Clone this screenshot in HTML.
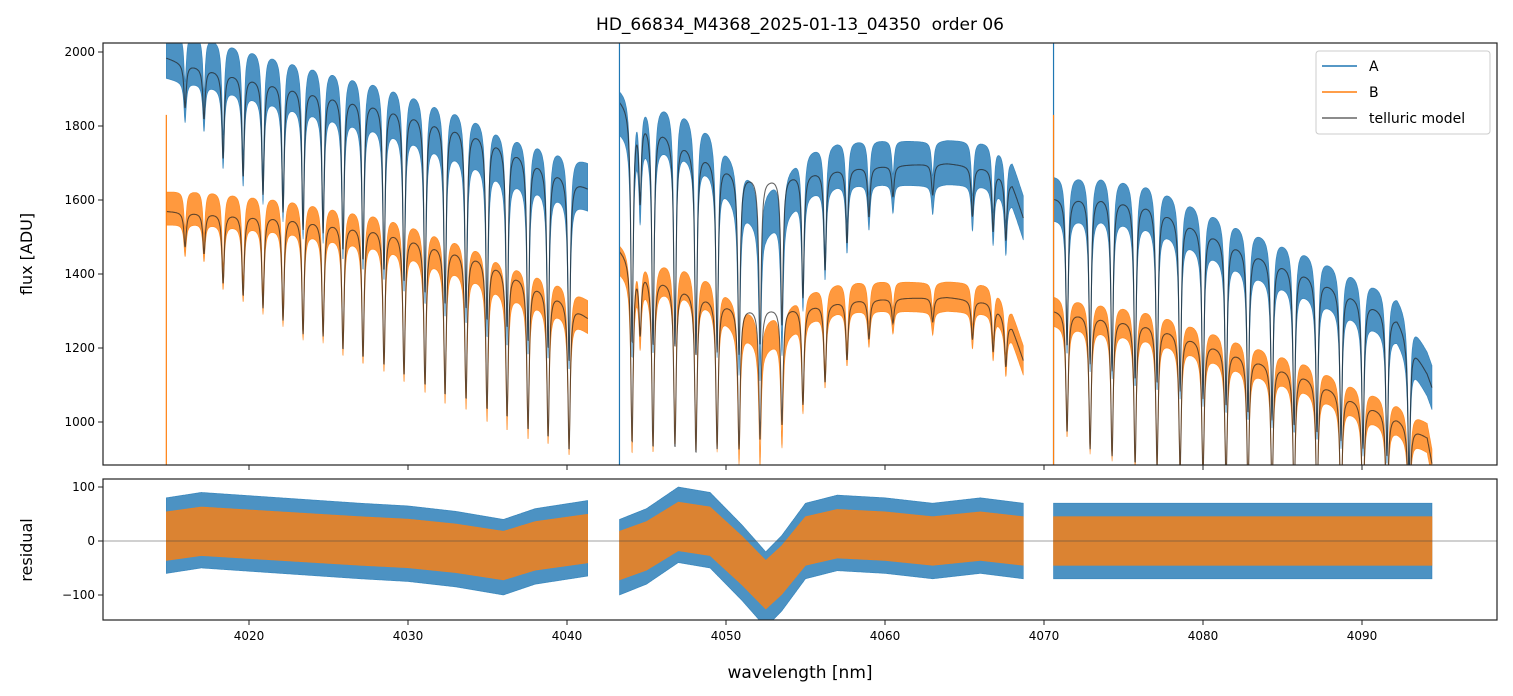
<!DOCTYPE html>
<html><head><meta charset="utf-8"><style>
body{margin:0;background:#fff;font-family:"Liberation Sans",sans-serif}
svg{display:block}
text{font-family:"DejaVu Sans","Liberation Sans",sans-serif}
</style></head><body>
<svg id="chart" width="1513" height="696" viewBox="0 0 1513 696" xmlns="http://www.w3.org/2000/svg">
<defs>
<clipPath id="cTop"><rect x="103" y="43" width="1394" height="422"/></clipPath>
<clipPath id="cRes"><rect x="103" y="479" width="1394" height="141"/></clipPath>
</defs>
<text x="800" y="30" font-size="17" text-anchor="middle">HD_66834_M4368_2025-01-13_04350&#160; order 06</text>
<g id="topg" clip-path="url(#cTop)"></g>
<g id="resg" clip-path="url(#cRes)"></g>
<g id="axes"></g>
<text transform="translate(32,254) rotate(-90)" font-size="16" text-anchor="middle">flux [ADU]</text>
<text transform="translate(32,550) rotate(-90)" font-size="16" text-anchor="middle">residual</text>
<text x="800" y="678" font-size="17" text-anchor="middle">wavelength [nm]</text>
<g id="legendg">
<rect x="1316" y="51" width="174" height="83" rx="3" fill="#fff" fill-opacity="0.8" stroke="#ccc"/>
<line x1="1322" y1="66" x2="1357" y2="66" stroke="#1f77b4" stroke-width="1.6"/>
<text x="1369" y="71" font-size="14">A</text>
<line x1="1322" y1="92" x2="1357" y2="92" stroke="#ff7f0e" stroke-width="1.6"/>
<text x="1369" y="97" font-size="14">B</text>
<line x1="1322" y1="118" x2="1357" y2="118" stroke="#666" stroke-width="1.6"/>
<text x="1369" y="123" font-size="14">telluric model</text>
</g>
</svg>
<script>
// ---- data ----
const segStart=[4014.8,4043.3,4070.6];
const segEnd=[4041.3,4068.7,4094.4];
const contX=[[4014.8,4015.9,4022.2,4028.5,4034.8,4039.8,4041.3],[4043.3,4045.2,4048.3,4050.8,4052.7,4054.6,4057.8,4061.0,4063.9,4066.8,4068.0,4068.7],[4070.6,4073.6,4076.7,4079.9,4083.0,4086.2,4089.3,4092.2,4094.1,4094.4]];
const contA=[[1985,1969,1916,1862,1781,1673,1635],[1876,1816,1735,1673,1662,1673,1689,1695,1700,1686,1646,1554],[1608,1614,1592,1527,1465,1411,1349,1284,1132,1095]];
const contB=[[1570,1568,1559,1524,1446,1335,1284],[1470,1403,1349,1311,1311,1311,1330,1335,1338,1324,1257,1168],[1303,1289,1268,1222,1176,1132,1068,1014,959,889]];
const lineW=[4015.98,4017.17,4018.37,4019.63,4020.88,4022.14,4023.40,4024.66,4025.91,4027.17,4028.49,4029.75,4031.07,4032.33,4033.65,4034.97,4036.23,4037.55,4038.81,4040.13,
 4044.09,4044.6,4045.41,4046.79,4048.11,4049.44,4050.82,4052.14,4053.52,4054.84,4056.23,4057.61,4058.99,4060.5,4063.0,4065.5,4066.8,4067.6,
 4071.45,4072.90,4074.28,4075.73,4077.11,4078.56,4080.00,4081.45,4082.83,4084.34,4085.73,4087.17,4088.68,4090.06,4091.57,4092.96];
const lineD=[0.06,0.07,0.12,0.14,0.16,0.18,0.2,0.2,0.22,0.23,0.24,0.25,0.26,0.27,0.27,0.28,0.28,0.29,0.29,0.3,
 0.34,0.12,0.33,0.32,0.32,0.3,0.29,0.27,0.24,0.2,0.16,0.12,0.08,0.05,0.05,0.08,0.1,0.1,
 0.25,0.28,0.29,0.3,0.3,0.3,0.3,0.3,0.3,0.3,0.3,0.3,0.3,0.3,0.3,0.3];
const trendX=[4014.8,4017,4022,4027,4030,4033,4036,4038,4041.3, 4043.3,4045,4047,4049,4051,4052.5,4053.5,4055,4057,4060,4063,4066,4068.7, 4070.6,4094.4];
const trendV=[10,20,10,0,-5,-15,-30,-10,5, -30,-10,30,20,-40,-90,-60,0,15,10,0,10,0, 0,0];
const noiseA=[65,60,60], noiseB=[45,40,40];
const xTicks=[4020,4030,4040,4050,4060,4070,4080,4090];
const yTicks=[1000,1200,1400,1600,1800,2000];
const rTicks=[-100,0,100];

// ---- axes ----
const X=w=>249+(w-4020)*15.9;
const Y=f=>52+(2000-f)*0.37;
const R=r=>541-r*0.54;
const NS="http://www.w3.org/2000/svg";
function mk(tag,attrs,parent){const e=document.createElementNS(NS,tag);for(const k in attrs)e.setAttribute(k,attrs[k]);parent.appendChild(e);return e;}
function interp(xs,vs,x){if(x<=xs[0])return vs[0];for(let i=1;i<xs.length;i++){if(x<=xs[i]){const t=(x-xs[i-1])/(xs[i]-xs[i-1]);return vs[i-1]+t*(vs[i]-vs[i-1]);}}return vs[vs.length-1];}
function absorb(w){let s=0;for(let i=0;i<lineW.length;i++){const u=(w-lineW[i])/0.09;s+=lineD[i]/(1+u*u);}return Math.min(s,0.95);}
function trend(w){return interp(trendX,trendV,w);}
const gTop=document.getElementById('topg'),gRes=document.getElementById('resg'),gAx=document.getElementById('axes');
const segNames=['seg1','seg2','seg3'];
for(let s=0;s<3;s++){
 const pts=[];for(let w=segStart[s];w<=segEnd[s]+1e-9;w+=0.02)pts.push(w);
 const ab=pts.map(w=>absorb(w));
 const mA=pts.map((w,i)=>interp(contX[s],contA[s],w)*(1-ab[i]));
 const mB=pts.map((w,i)=>interp(contX[s],contB[s],w)*(1-ab[i]));
 const tr=pts.map(w=>trend(w));
 const sc=ab.map(a=>Math.max(0.35,1-2.5*a));
 function band(sig,color,name,g,Yf,base,useSc){
  const up=pts.map((w,i)=>X(w).toFixed(1)+','+Yf(base(i)+sig*(useSc?sc[i]:1)).toFixed(1));
  const dn=pts.map((w,i)=>X(w).toFixed(1)+','+Yf(base(i)-sig*(useSc?sc[i]:1)).toFixed(1)).reverse();
  const p=mk('polygon',{points:up.concat(dn).join(' '),fill:color,'fill-opacity':0.8,stroke:color,'stroke-width':0.6,'stroke-opacity':0.8},g);
  
  
 }
 band(noiseA[s],'#1f77b4','flux-a-'+segNames[s],gTop,Y,i=>mA[i]+tr[i],true);
 band(noiseB[s],'#ff7f0e','flux-b-'+segNames[s],gTop,Y,i=>mB[i]+tr[i]*0.8,true);
 [mA,mB].forEach((m,k)=>{
  const l=mk('polyline',{points:pts.map((w,i)=>X(w).toFixed(1)+','+Y(m[i]).toFixed(1)).join(' '),fill:'none',stroke:'#222','stroke-opacity':0.7,'stroke-width':1.1},gTop);
  
  
 });
 band(70,'#1f77b4','residual-a-'+segNames[s],gRes,R,i=>tr[i],false);
 band(45,'#ff7f0e','residual-b-'+segNames[s],gRes,R,i=>tr[i]*0.9,false);
}
[[4043.3,'#1f77b4',2024],[4070.6,'#1f77b4',2024],[4070.6,'#ff7f0e',1830],[4014.8,'#ff7f0e',1830]].forEach(([w,c,f])=>{
 const l=mk('line',{x1:X(w),x2:X(w),y1:465,y2:Y(f),stroke:c,'stroke-width':1.2},gTop);
 
 
});
const z=mk('line',{x1:103,x2:1497,y1:R(0),y2:R(0),stroke:'#444','stroke-width':0.6},gRes);


[[43,422],[479,141]].forEach(([y,h],i)=>{const r=mk('rect',{x:103,y:y,width:1394,height:h,fill:'none',stroke:'#222','stroke-width':1.2},gAx);
 
 });
xTicks.forEach(t=>{
 [465,620].forEach(yb=>{mk('line',{x1:X(t),x2:X(t),y1:yb,y2:yb+5,stroke:'#222'},gAx);});
 const tx=mk('text',{x:X(t),y:640,'font-size':12,'text-anchor':'middle'},gAx);tx.textContent=t;
 
 
});
yTicks.forEach(t=>{mk('line',{x1:98,x2:103,y1:Y(t),y2:Y(t),stroke:'#222'},gAx);
 const tx=mk('text',{x:95,y:Y(t)+4,'font-size':12,'text-anchor':'end'},gAx);tx.textContent=t;
 
 });
rTicks.forEach(t=>{mk('line',{x1:98,x2:103,y1:R(t),y2:R(t),stroke:'#222'},gAx);
 const tx=mk('text',{x:95,y:R(t)+4,'font-size':12,'text-anchor':'end'},gAx);tx.textContent=String(t).replace('-','\u2212');
 
 });
document.getElementById('chart').appendChild(document.getElementById('legendg'));
</script>
</body></html>
